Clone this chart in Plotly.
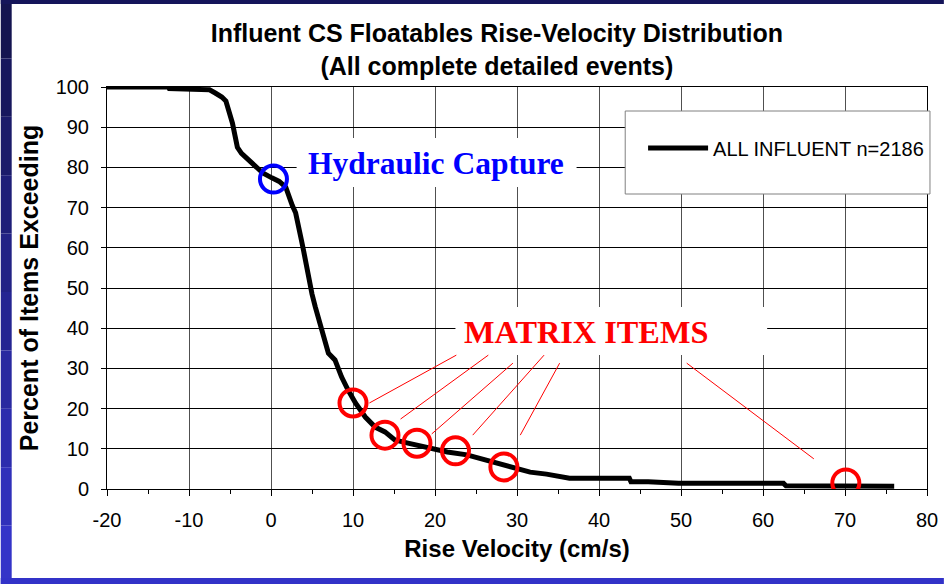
import plotly.graph_objects as go

# rise velocity (cm/s) vs percent of items exceeding
velocity = [-20, -12.5, -12.4, -9.2, -9.0, -7.5, -6.8, -6.0, -5.5, -5.0, -4.7, -4.4,
            -4.1, -3.6, -3.0, -2.4, -1.8, -1.0, 0.1, 1.0, 1.8, 2.2, 2.6, 3.0, 3.4,
            3.7, 4.0, 4.3, 4.6, 5.0, 5.4, 5.8, 6.1, 6.5, 7.0, 7.8, 8.2, 8.6, 9.4,
            10.3, 11.5, 12.7, 13.9, 15.1, 16.7, 19.1, 21.5, 23.9, 26.4, 28.0, 29.6,
            31.6, 33.6, 34.8, 36.4, 43.7, 43.9, 46.0, 49.7, 62.5, 62.8, 76.0]
pct_exceeding = [100, 100, 99.6, 99.6, 99.3, 99.3, 98.5, 97.5, 96.5, 93.5, 91, 88,
                 85, 83.5, 82.3, 81, 79.9, 78.6, 77.4, 76.5, 75.1, 72.5, 70.5, 68.7, 65.5,
                 62.0, 59.0, 55.5, 52.0, 48.5, 45.3, 42.5, 39.6, 36.5, 33.8, 32.1, 29.8, 27.9, 24.6,
                 21.4, 17.9, 15.4, 14.2, 12.2, 11.4, 10.2, 9.2, 8.5, 7.2, 6.2, 5.5,
                 4.2, 3.7, 3.2, 2.7, 2.7, 1.8, 1.8, 1.4, 1.4, 0.8, 0.7]

hydraulic_v = [0.3]
hydraulic_p = [77.1]
matrix_v = [10.0, 13.9, 17.8, 22.5, 28.4, 70.1]
matrix_p = [21.4, 13.4, 11.4, 9.5, 5.5, 1.5]

# leader lines from the "MATRIX ITEMS" label to the circles: (x0, y0, x1, y1)
leaders = [(22.6, 33.3, 12.0, 21.4), (26.5, 33.3, 15.8, 17.4), (29.5, 31.3, 19.6, 13.7),
           (33.3, 33.3, 24.6, 13.4), (35.2, 31.3, 30.4, 13.4), (50.7, 31.3, 66.2, 7.5)]

x_ticks = list(range(-20, 81, 10))
x_labels = [str(v) for v in x_ticks]  # plain hyphen, not the unicode minus
y_ticks = list(range(0, 101, 10))

W, H = 950, 584
L, R, T, B = 107, 933, 87, 489


def px_x(x):
    return (x - L) / (R - L)


def px_y(y):
    return (B - y) / (B - T)


fig = go.Figure()
fig.add_trace(go.Scatter(x=velocity, y=pct_exceeding, mode='lines',
                         line=dict(color='black', width=5), name='ALL INFLUENT n=2186'))
fig.add_trace(go.Scatter(x=hydraulic_v, y=hydraulic_p, mode='markers', showlegend=False,
                         marker=dict(symbol='circle-open', size=27, color='#0000ff',
                                     line=dict(width=4, color='#0000ff'))))
fig.add_trace(go.Scatter(x=matrix_v, y=matrix_p, mode='markers', showlegend=False,
                         marker=dict(symbol='circle-open', size=27, color='#ff0000',
                                     line=dict(width=4, color='#ff0000'))))

shapes = []
# blue frame round the picture
n = 10
for i in range(n):
    f = i / (n - 1)
    c = 'rgb(%d,%d,%d)' % (20 + 32 * f, 20 + 32 * f, 80 + 120 * f)
    shapes.append(dict(type='rect', xref='paper', yref='paper', layer='above',
                       x0=px_x(0), x1=px_x(11), y0=px_y(H * i / n), y1=px_y(H * (i + 1) / n),
                       fillcolor=c, line=dict(width=0)))
shapes.append(dict(type='rect', xref='paper', yref='paper', x0=px_x(0), x1=px_x(W),
                   y0=px_y(0), y1=px_y(4), fillcolor='#15155a', line=dict(width=0)))
shapes.append(dict(type='rect', xref='paper', yref='paper', x0=px_x(0), x1=px_x(W),
                   y0=px_y(578), y1=px_y(H), fillcolor='#3232c8', line=dict(width=0)))
# white boxes behind the labels and the legend
shapes.append(dict(type='rect', xref='paper', yref='paper', layer='above',
                   x0=px_x(298), x1=px_x(580), y0=px_y(138), y1=px_y(187),
                   fillcolor='white', line=dict(width=0)))
shapes.append(dict(type='rect', xref='paper', yref='paper', layer='above',
                   x0=px_x(458), x1=px_x(772), y0=px_y(307), y1=px_y(355),
                   fillcolor='white', line=dict(width=0)))
shapes.append(dict(type='rect', xref='paper', yref='paper', layer='above',
                   x0=px_x(629), x1=px_x(936), y0=px_y(111), y1=px_y(194),
                   fillcolor='white', line=dict(width=1, color='#808080')))
for x0, y0, x1, y1 in leaders:
    shapes.append(dict(type='line', xref='x', yref='y', x0=x0, y0=y0, x1=x1, y1=y1,
                       line=dict(color='#ff0000', width=1)))

annotations = [
    dict(text='Hydraulic Capture', xref='paper', yref='paper', x=px_x(438), y=px_y(163),
         showarrow=False, font=dict(family='Liberation Serif', size=31.5, color='#0000ff'),
         xanchor='center', yanchor='middle'),
    dict(text='MATRIX ITEMS', xref='paper', yref='paper', x=px_x(590), y=px_y(332),
         showarrow=False, font=dict(family='Liberation Serif', size=32.3, color='#ff0000'),
         xanchor='center', yanchor='middle'),
]
for a in annotations:
    a['text'] = '<b>' + a['text'] + '</b>'

fig.update_layout(
    width=W, height=H,
    margin=dict(l=L, r=W - R, t=T, b=H - B),
    paper_bgcolor='white', plot_bgcolor='white',
    font=dict(family='Liberation Sans, Arial', color='black', size=20),
    title=dict(text='<b>Influent CS Floatables Rise-Velocity Distribution<br>(All complete detailed events)</b>',
               x=0.523, xanchor='center', y=1 - 42 / H, yanchor='top', yref='container',
               font=dict(size=25)),
    showlegend=True,
    legend=dict(x=px_x(647), y=px_y(148), xanchor='left', yanchor='middle',
                bgcolor='rgba(0,0,0,0)', borderwidth=0, itemwidth=60,
                font=dict(size=20)),
    shapes=shapes,
    annotations=annotations,
)
fig.update_xaxes(range=[-20, 80], tickvals=x_ticks, ticktext=x_labels,
                 showgrid=True, gridcolor='#505050', gridwidth=1.3,
                 showline=True, linecolor='black', linewidth=1, mirror=True,
                 ticks='outside', ticklen=6, tickcolor='black', ticklabelstandoff=7,
                 minor=dict(dtick=5, ticks='outside', ticklen=4, tickcolor='black', showgrid=False),
                 zeroline=False,
                 title=dict(text='<b>Rise Velocity (cm/s)</b>', font=dict(size=24), standoff=10))
fig.update_yaxes(range=[0, 100], tickvals=y_ticks, showgrid=True, gridcolor='black', gridwidth=1,
                 showline=True, linecolor='black', linewidth=1, mirror=True,
                 ticks='outside', ticklen=5, tickcolor='black', ticklabelstandoff=8,
                 zeroline=False,
                 title=dict(text='<b>Percent of Items Exceeding</b>', font=dict(size=25), standoff=9))

# drop the browser's default 8px page margin so the figure sits at the window corner
fig.write_html("out.html", config={'displayModeBar': False},
               post_script="document.body.style.margin='0';")
